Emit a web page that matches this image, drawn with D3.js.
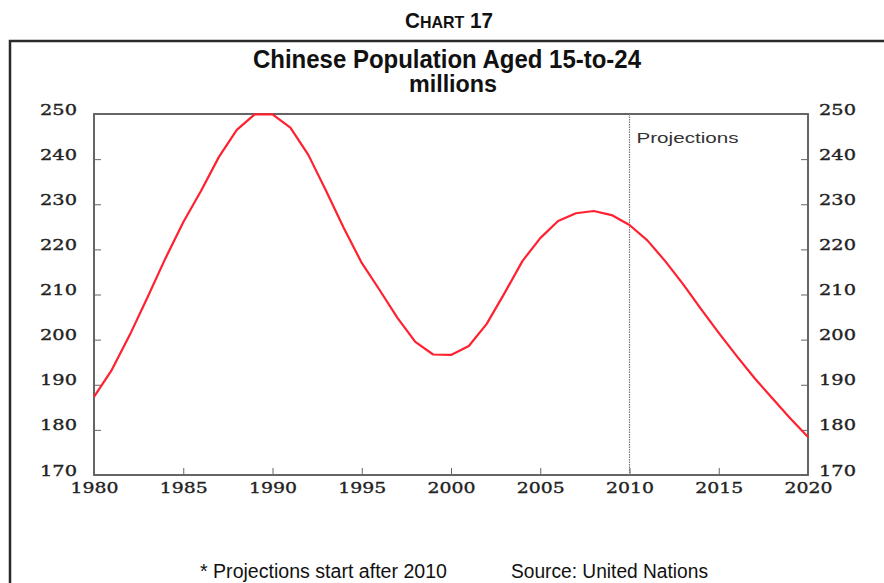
<!DOCTYPE html>
<html><head><meta charset="utf-8">
<script src="https://cdn.jsdelivr.net/npm/d3@7"></script>
<style>
html,body{margin:0;padding:0;background:#fff;}
svg{display:block;}
</style></head>
<body>
<svg id="c" width="884" height="583"></svg>
<script>
const years = d3.range(1980, 2021);
const population = [187.3,193.3,201.0,209.4,218.0,226.0,233.0,240.5,246.5,249.9,
  249.9,247.0,241.0,233.0,224.7,217.0,211.0,204.8,199.5,196.7,
  196.6,198.6,203.5,210.3,217.4,222.5,226.3,228.0,228.5,227.6,
  225.4,222.0,217.4,212.3,206.8,201.5,196.4,191.5,187.0,182.6,178.4];
const yTicks = [170,180,190,200,210,220,230,240,250];
const xTicks = [1980,1985,1990,1995,2000,2005,2010,2015,2020];
const projectionStart = 2010;

const svg = d3.select("#c");
const L = 94, R = 808, T = 114, B = 475;
const x = d3.scaleLinear().domain([1980,2020]).range([L,R]);
const y = d3.scaleLinear().domain([170,250]).range([B,T]);

// outer frame
svg.append("path").attr("d","M10,583 L10,41 L884,41")
  .attr("fill","none").attr("stroke","#2a2a2a").attr("stroke-width",2.5);

const narrow = "'Liberation Sans Narrow','Arial Narrow','Liberation Sans',Arial,sans-serif";
const serif = "'DejaVu Serif','Liberation Serif',serif";

function fitText(sel, w){ return sel.attr("textLength",w).attr("lengthAdjust","spacingAndGlyphs"); }

// Chart number
const ct = svg.append("text").attr("x",449).attr("y",28).attr("text-anchor","middle")
  .attr("font-family",narrow).attr("font-weight","bold").attr("fill","#111");
fitText(ct, 88);
ct.append("tspan").attr("font-size",22).text("C");
ct.append("tspan").attr("font-size",17).text("HART");
ct.append("tspan").attr("font-size",22).text(" 17");

fitText(svg.append("text").attr("x",447).attr("y",68).attr("text-anchor","middle")
  .attr("font-family",narrow).attr("font-weight","bold").attr("font-size",25.5)
  .attr("fill","#111").text("Chinese Population Aged 15-to-24"), 388);
fitText(svg.append("text").attr("x",453).attr("y",92).attr("text-anchor","middle")
  .attr("font-family",narrow).attr("font-weight","bold").attr("font-size",23)
  .attr("fill","#111").text("millions"), 88);

// plot frame
svg.append("rect").attr("x",L).attr("y",T).attr("width",R-L).attr("height",B-T)
  .attr("fill","none").attr("stroke","#555").attr("stroke-width",1.8);

// axes
const yl = d3.axisLeft(y).tickValues(yTicks).tickSize(-7).tickPadding(17).tickFormat(d3.format("d"));
const yr = d3.axisRight(y).tickValues(yTicks).tickSize(-7).tickPadding(11).tickFormat(d3.format("d"));
const xb = d3.axisBottom(x).tickValues(xTicks).tickSize(-7).tickPadding(12).tickFormat(d3.format("d"));

function styleAx(g){
  g.select(".domain").remove();
  g.selectAll(".tick line").attr("stroke","#666").attr("stroke-width",1);
  g.selectAll(".tick text").attr("font-family",serif).attr("font-size",15.5)
    .attr("fill","#222").attr("stroke","#222").attr("stroke-width",0.35)
    .each(function(d){ const t=d3.select(this); t.attr("textLength", String(d).length===4?48:37).attr("lengthAdjust","spacingAndGlyphs"); });
}
const gl = svg.append("g").attr("transform",`translate(${L},0)`).call(yl).call(styleAx);
gl.selectAll(".tick text").attr("dy","0.0em");
const gr = svg.append("g").attr("transform",`translate(${R},0)`).call(yr).call(styleAx);
gr.selectAll(".tick text").attr("dy","0.0em");
const gb = svg.append("g").attr("transform",`translate(0,${B})`).call(xb).call(styleAx);
gb.selectAll(".tick text").attr("dy","0.4em");
gb.selectAll(".tick").filter(d=>d===1980||d===2020).select("line").remove();

// projections line
svg.append("line").attr("x1",x(projectionStart)).attr("x2",x(projectionStart))
  .attr("y1",T).attr("y2",B).attr("stroke","#777").attr("stroke-width",1.2)
  .attr("stroke-dasharray","1.5,1");
fitText(svg.append("text").attr("x",x(projectionStart)+7).attr("y",143)
  .attr("font-family","'Liberation Sans',Arial,sans-serif").attr("font-size",14.5)
  .attr("fill","#333").text("Projections"), 102);

// series
const line = d3.line().x((d,i)=>x(years[i])).y(d=>y(d));
svg.append("path").datum(population).attr("d",line).attr("fill","none")
  .attr("stroke","#ff2030").attr("stroke-width",2.2).attr("stroke-linejoin","round");

// footer
fitText(svg.append("text").attr("x",200).attr("y",578).attr("font-family",narrow)
  .attr("font-size",20).attr("fill","#111").text("* Projections start after 2010"), 247);
fitText(svg.append("text").attr("x",511).attr("y",578).attr("font-family",narrow)
  .attr("font-size",20).attr("fill","#111").text("Source: United Nations"), 197);
</script>
</body></html>
